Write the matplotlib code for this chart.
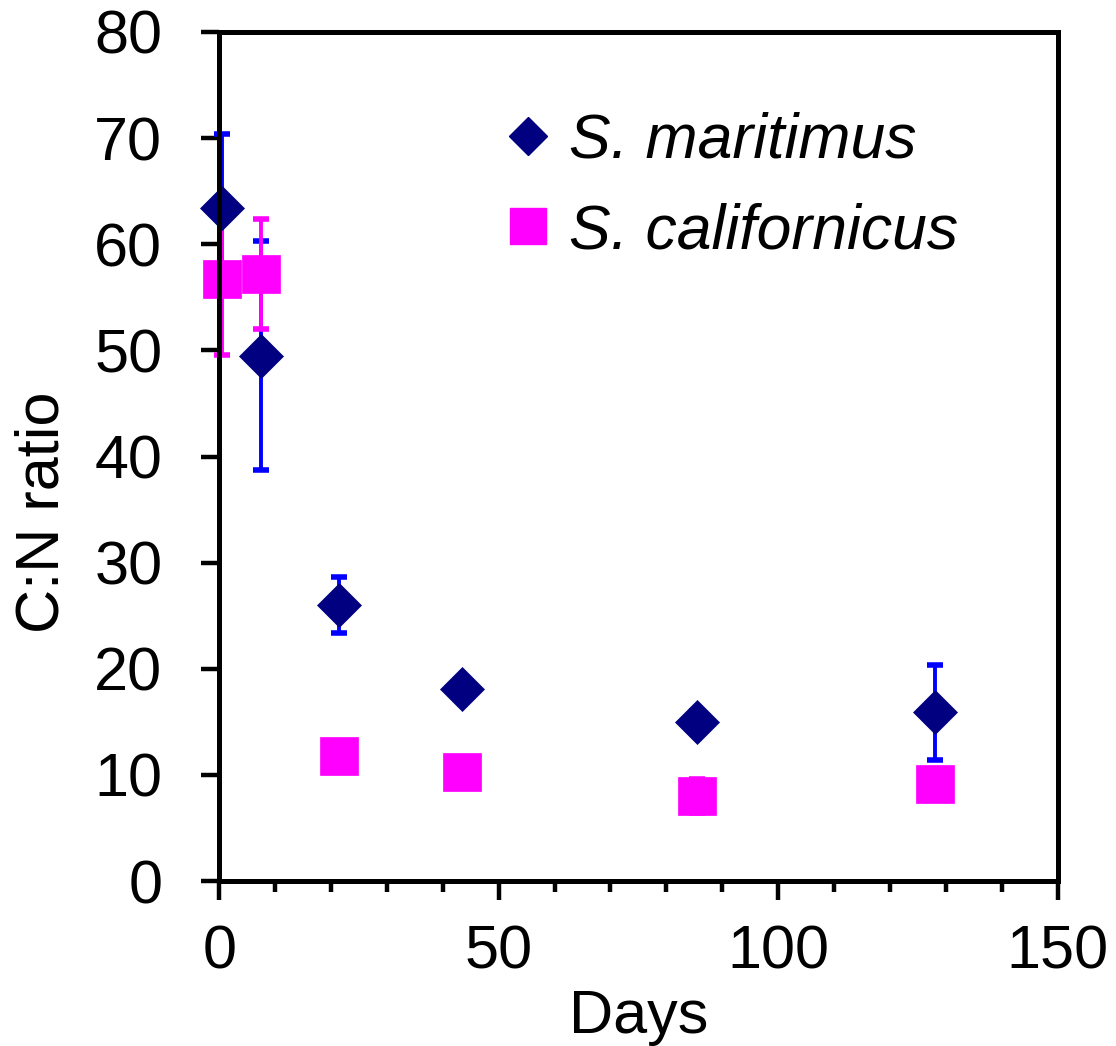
import matplotlib
matplotlib.use("Agg")
import matplotlib.pyplot as plt
from matplotlib.lines import Line2D
from matplotlib.ticker import MultipleLocator

plt.rcParams['font.family'] = ['Liberation Sans', 'DejaVu Sans']

# Sampling days
days = [0.5, 7.5, 21.5, 43.5, 85.5, 128.0]

# C:N ratio, mean and error, for each species
maritimus = [63.4, 49.5, 26.0, 18.1, 15.0, 15.9]
maritimus_err = [7.0, 10.8, 2.6, 0.6, 1.0, 4.5]
californicus = [56.7, 57.2, 11.8, 10.3, 8.0, 9.1]
californicus_err = [7.1, 5.2, 0.5, 0.5, 1.6, 0.5]

labels = ["S. maritimus", "S. californicus"]
x_ticks = [0, 50, 100, 150]
y_ticks = [0, 10, 20, 30, 40, 50, 60, 70, 80]

navy = "#000080"
blue = "#0000FF"
magenta = "#FF00FF"

fig = plt.figure(figsize=(11.16, 10.46), dpi=100)
ax = fig.add_axes([219.3 / 1116, 1 - 881 / 1046, (1057.5 - 219.3) / 1116, (881 - 32) / 1046])

# error bars first, markers on top
for vals, errs, col in [(maritimus, maritimus_err, blue),
                        (californicus, californicus_err, magenta)]:
    eb = ax.errorbar(days, vals, yerr=errs, fmt="none", ecolor=col,
                     elinewidth=2.8, capsize=6, capthick=4, zorder=2)
    for artist in eb.lines[1] + eb.lines[2]:
        artist.set_clip_on(False)

ax.plot(days, maritimus, linestyle="none", marker="D", markersize=22.5,
        markerfacecolor=navy, markeredgecolor=navy, markeredgewidth=0.5,
        zorder=3, clip_on=False)
ax.plot(days, californicus, linestyle="none", marker="s", markersize=27,
        markerfacecolor=magenta, markeredgecolor=magenta, markeredgewidth=0.5,
        zorder=3, clip_on=False)

ax.set_xlim(0, 150)
ax.set_ylim(0, 80)
ax.set_xticks(x_ticks)
ax.set_yticks(y_ticks)
ax.xaxis.set_minor_locator(MultipleLocator(10))

for side in ["left", "bottom", "top", "right"]:
    ax.spines[side].set_linewidth(3.6)
    ax.spines[side].set_zorder(5)

ax.tick_params(axis="x", which="major", direction="out", length=14, width=3.2,
               labelsize=44, pad=17)
ax.tick_params(axis="x", which="minor", direction="out", length=8, width=3.2)
ax.tick_params(axis="y", which="major", direction="out", length=13, width=3.2,
               labelsize=44, pad=28)

fig.text(43 / 1116, 1 - 512.5 / 1046, "C:N ratio", rotation=90,
         ha="center", va="center", fontsize=44)
fig.text(638.5 / 1116, 1 - 1018 / 1046, "Days", ha="center", va="center", fontsize=44)

handles = [
    Line2D([], [], linestyle="none", marker="D", markersize=19.5,
           markerfacecolor=navy, markeredgecolor=navy),
    Line2D([], [], linestyle="none", marker="s", markersize=26.5,
           markerfacecolor=magenta, markeredgecolor=magenta),
]
ax.legend(handles, labels, loc="upper left", bbox_to_anchor=(0.338, 0.906),
          frameon=False, borderpad=0, borderaxespad=0, handlelength=0.8,
          handletextpad=0.255, labelspacing=0.5,
          prop={"size": 45, "style": "italic", "family": "Liberation Sans"})

fig.savefig("out.png", dpi=100)
